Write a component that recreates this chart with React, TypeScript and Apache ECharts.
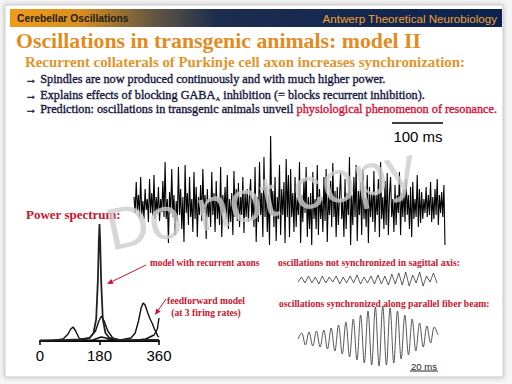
import React, { useEffect, useRef } from "react";
import * as echarts from "echarts";

// ---- Data ----
const headerLeft = "Cerebellar Oscillations";
const headerRight = "Antwerp Theoretical Neurobiology";
const titleText = "Oscillations in transgenic animals: model II";
const subtitleText = "Recurrent collaterals of Purkinje cell axon increases synchronization:";
const bullet1 = "→ Spindles are now produced continuously and with much higher power.";
const bullet2a = "→ Explains effects of blocking GABA";
const bullet2sub = "A";
const bullet2b = " inhibition (= blocks recurrent inhibition).";
const bullet3a = "→ Prediction: oscillations in transgenic animals unveil ";
const bullet3b = "physiological phenomenon of resonance.";

const spectrumTicks = [0, 180, 360];
// power spectrum curves: [frequency (deg), power]
const recurrentSpectrum = [
  [0, 0.5], [40, 0.8], [80, 1], [120, 1.5], [150, 3], [162, 8], [170, 22], [175, 60], [178, 100],
  [180, 117], [182, 100], [185, 60], [190, 22], [198, 8], [210, 3], [240, 1], [300, 0.8], [360, 1],
];
const feedforwardLow = [
  [0, 0], [40, 0.5], [70, 2], [85, 7], [93, 12], [100, 14], [108, 10], [118, 3], [130, 0.8],
  [160, 1], [185, 4], [200, 3], [220, 1], [260, 0.5], [300, 1], [360, 1],
];
const feedforwardMid = [
  [0, 0], [60, 0.5], [120, 1], [150, 3], [168, 10], [178, 20], [186, 25], [194, 20], [205, 10],
  [220, 3], [240, 0.8], [280, 0.5], [320, 2], [345, 6], [355, 12], [360, 23],
];
const feedforwardHigh = [
  [0, 0], [100, 0.5], [200, 0.8], [250, 1.5], [275, 3], [288, 8], [298, 20], [306, 33], [312, 38],
  [318, 36], [326, 28], [333, 22], [339, 18], [346, 12], [351, 9], [356, 5], [360, 4],
];

// population activity trace (offset from baseline)
const lfpTrace = [
  10, -6, 25, -4, 12, -10, 30, -8, 6, -12, 18, -3, 8, -15, 28, -6, 14, -9, 32, -12, 10, -7, 20, -14, 8, -5, 26, -10,
  45, -12, 8, -36, 15, -6, 38, -10, 12, -28, 6, -14, 40, -8, 18, -22, 10, -35, 42, -6, 14, -18, 30, -10, 8, -25, 35, -12, 20, -30, 10, -8,
  22, -14, 38, -6, 12, -32, 18, -10, 8, -20, 35, -8, 14, -25, 26, -12, 9, -18, 40, -30, 12, -6, 20, -12, 32, -22, 8, -15, 14, -28, 36, -10, 18, -14, 24, -20, 10, -8, 30, -26, 16, -10, 18, -15, 12,
  28, -12, 8, -20, 40, -35, 10, -15, 45, -8, 14, -30, 50, -10, 20, -25, 12, -38, 71, -8, 16, -20, 30, -34, 10, -12, 42, -28, 18, -8, 25, -36, 48, -10, 32, -30,
  38, -10, 14, -25, 30, -20, 10, -8, 45, -36, 12, -15, 28, -6, 40, -30, 10, -22, 14, -38, 35, -12, 8, -22, 42, -28, 18, -12, 10, -25, 30, -14, 38, -35, 12, -8, 26, -20, 44, -10, 16, -30, 20, -18, 10,
  35, -12, 8, -30, 28, -22, 14, -8, 50, -38, 12, -18, 30, -10, 42, -34, 16, -8, 25, -28, 38, -12, 10, -20, 32, -36, 20, -10, 14, -15, 36, -25, 12, -8, 28, -30, 45, -12, 10, -22, 26, -18, 34, -28, 12,
  30, -10, 8, -25, 22, -18, 12, -6, 35, -28, 14, -10, 18, -15, 28, -8, 12, -22, 20, -30, 25, -12, 8, -10, 32, -20, 18, -16,
  15, -12, 8, -6, 20, -10, 12, -8, 25, -15, 10, -12, 18, -8, 28, -18, 12, -6, 15, -10, 22, -38,
];
// not synchronized (sagittal axis)
const sagittalTrace = [
  -2, 3, -3, 4, -3, 3, -4, 4, -3, 3, -2, 4, -4, 3, -3, 4, -3, 5, -4, 3,
  -3, 4, -4, 5, -4, 4, -5, 6, -4, 7, -5, 8, -6, 5, -3, 8, -6, 4, -2, 7, -3,
];
// synchronized along parallel fiber beam
const beamTrace = [
  -2, 4, -8, 5, -9, 6, -10, 7, -12, 9, -14, 12, -17, 15, -20, 18, -23, 22, -26, 26, -28,
  30, -29, 31, -28, 29, -26, 26, -22, 22, -18, 18, -14, 14, -10, 11, -6, 10, 2,
];

const annotations = {
  recurrent: "model with recurrent axons",
  ff1: "feedforward model",
  ff2: "(at 3 firing rates)",
  notSync: "oscillations not synchronized in sagittal axis:",
  sync: "oscillations synchronized along parallel fiber beam:",
};

const SERIF = "'Liberation Serif', 'Times New Roman', serif";
const SANS = "'Liberation Sans', Arial, sans-serif";
const RED = "#C8142E";
const NAVY = "#16163E";
const BULLET_SCALE = 1.02;

function arrow(x1: number, y1: number, x2: number, y2: number, color: string) {
  const ang = Math.atan2(y2 - y1, x2 - x1);
  const L = 6, W = 2.6;
  const bx = x2 - L * Math.cos(ang), by = y2 - L * Math.sin(ang);
  const px = -Math.sin(ang) * W, py = Math.cos(ang) * W;
  return [
    { type: "line", shape: { x1, y1, x2: bx, y2: by }, style: { stroke: color, lineWidth: 1 } },
    {
      type: "polygon",
      shape: { points: [[x2, y2], [bx + px, by + py], [bx - px, by - py]] },
      style: { fill: color },
    },
  ];
}

function text(t: string, x: number, y: number, opts: any, scaleX = 1) {
  return {
    type: "text",
    x, y, scaleX,
    style: { text: t, textVerticalAlign: "middle", ...opts },
  };
}

export default function App() {
  const ref = useRef<HTMLDivElement>(null);
  useEffect(() => {
    if (!ref.current) return;
    const chart = echarts.init(ref.current, null, { renderer: "svg" });
    const line = (data: any, xi: number, w = 1.3, color = "#111", smooth: any = false) => ({
      type: "line",
      xAxisIndex: xi,
      yAxisIndex: xi,
      data,
      showSymbol: false,
      smooth,
      lineStyle: { color, width: w },
      silent: true,
    });
    const hiddenX = (i: number, n: number) => ({ type: "value", gridIndex: i, min: 0, max: n, show: false });
    const hiddenY = (i: number, a: number, b: number) => ({ type: "value", gridIndex: i, min: a, max: b, show: false });
    const bulletStyle = { fontSize: 12, fontFamily: SERIF, fill: NAVY, color: NAVY, stroke: NAVY, lineWidth: 0.35 };

    const option: any = {
      animation: false,
      backgroundColor: "#f6f6f6",
      grid: [
        { left: 40, top: 221, width: 119, height: 120 },
        { left: 134, top: 132, width: 311, height: 120 },
        { left: 298, top: 270, width: 139, height: 20 },
        { left: 298, top: 305, width: 140, height: 64 },
      ],
      xAxis: [
        {
          type: "value", gridIndex: 0, min: spectrumTicks[0], max: spectrumTicks[2], interval: spectrumTicks[1],
          axisLine: { show: true, lineStyle: { color: "#000", width: 2 } },
          axisTick: { show: true, length: 4, lineStyle: { color: "#000", width: 1.5 } },
          axisLabel: { fontSize: 15, fontFamily: SANS, color: "#000", margin: 7 },
          splitLine: { show: false },
        },
        hiddenX(1, lfpTrace.length - 1),
        hiddenX(2, sagittalTrace.length - 1),
        hiddenX(3, beamTrace.length - 1),
      ],
      yAxis: [
        hiddenY(0, 0, 120),
        hiddenY(1, -45, 75),
        hiddenY(2, -10, 10),
        hiddenY(3, -32, 32),
      ],
      series: [
        line(feedforwardLow, 0, 1.4),
        line(feedforwardMid, 0, 1.4),
        line(feedforwardHigh, 0, 1.4),
        line(recurrentSpectrum, 0, 1.8, "#222"),
        line(lfpTrace.map((v, i) => [i, v]), 1, 1.1, "#000"),
        line(sagittalTrace.map((v, i) => [i, v]), 2, 0.8, "#333"),
        line(beamTrace.map((v, i) => [i, v]), 3, 0.9, "#444", 0.35),
      ],
      graphic: [
        {
          type: "rect", z: -10,
          shape: { x: 5, y: 5, width: 498, height: 372 },
          style: { fill: "#fff", stroke: "#c9c9c9", lineWidth: 1, shadowBlur: 5, shadowColor: "rgba(0,0,0,0.25)" },
        },
        {
          type: "rect", z: -9,
          shape: { x: 10, y: 9, width: 492, height: 18 },
          style: {
            fill: new echarts.graphic.LinearGradient(0, 0, 1, 0, [
              { offset: 0, color: "#EE9B1A" },
              { offset: 0.14, color: "#D9901F" },
              { offset: 0.28, color: "#6A5B40" },
              { offset: 0.42, color: "#1D2D50" },
              { offset: 1, color: "#0B2250" },
            ]),
          },
        },
        text(headerLeft, 17, 18.5, { fontSize: 10.3, fontWeight: "bold", fontFamily: SANS, fill: "#231c12" }),
        text(headerRight, 497, 18.5, { fontSize: 11.6, fontFamily: SANS, fill: "#F2A22E", textAlign: "right" }),
        text(titleText, 16, 41, { fontSize: 21.8, fontWeight: "bold", fontFamily: SERIF, fill: "#E38B1F" }),
        text(subtitleText, 25, 62, { fontSize: 14.85, fontWeight: "bold", fontFamily: SERIF, fill: "#E0952A" }),
        text(bullet1, 25, 79.5, bulletStyle, BULLET_SCALE),
        {
          type: "text", x: 25, y: 95, scaleX: BULLET_SCALE,
          style: {
            text: `{n|${bullet2a}}{s|${bullet2sub}}{n|${bullet2b}}`,
            textVerticalAlign: "middle",
            rich: {
              n: bulletStyle,
              s: { ...bulletStyle, fontSize: 6.5, lineWidth: 0.2, padding: [8, 0, 0, 0] },
            },
          },
        },
        {
          type: "text", x: 25, y: 109.5, scaleX: BULLET_SCALE,
          style: {
            text: `{n|${bullet3a}}{r|${bullet3b}}`,
            textVerticalAlign: "middle",
            rich: {
              n: bulletStyle,
              r: { ...bulletStyle, fill: "#D0123C", color: "#D0123C", stroke: "#D0123C" },
            },
          },
        },
        // 100 ms scale bar
        { type: "line", shape: { x1: 392, y1: 123, x2: 443, y2: 123 }, style: { stroke: "#000", lineWidth: 1.5 } },
        text("100 ms", 418, 136, { fontSize: 15, fontFamily: SANS, fill: "#000", textAlign: "center" }),
        text("Power spectrum:", 26, 214, { fontSize: 13, fontWeight: "bold", fontFamily: SERIF, fill: RED }),
        text(annotations.recurrent, 150, 263, { fontSize: 9.3, fontWeight: "bold", fontFamily: SERIF, fill: RED }),
        ...arrow(146, 265, 107, 284, RED),
        text(annotations.ff1, 206, 300, { fontSize: 9.6, fontWeight: "bold", fontFamily: SERIF, fill: RED, textAlign: "center" }),
        text(annotations.ff2, 206, 312, { fontSize: 9.6, fontWeight: "bold", fontFamily: SERIF, fill: RED, textAlign: "center" }),
        ...arrow(166, 299, 155, 315, RED),
        text(annotations.notSync, 278, 262, { fontSize: 9.6, fontWeight: "bold", fontFamily: SERIF, fill: RED }),
        text(annotations.sync, 279, 303, { fontSize: 9.6, fontWeight: "bold", fontFamily: SERIF, fill: RED }),
        // 20 ms scale bar
        text("20 ms", 424, 366, { fontSize: 9.5, fontFamily: SANS, fill: "#222", textAlign: "center" }),
        { type: "line", shape: { x1: 410, y1: 371, x2: 438, y2: 371 }, style: { stroke: "#222", lineWidth: 1 } },
        // watermark
        {
          type: "text", x: 113, y: 260, rotation: 0.21, z: 100,
          style: {
            text: "Do not copy",
            fontSize: 59,
            fontFamily: SANS,
            fill: "rgba(205,205,205,0.8)",
            textVerticalAlign: "bottom",
          },
        },
      ],
    };
    chart.setOption(option);
    return () => chart.dispose();
  }, []);
  return (
    <div
      ref={ref}
      style={{ position: "fixed", left: 0, top: 0, width: 512, height: 384 }}
    />
  );
}
